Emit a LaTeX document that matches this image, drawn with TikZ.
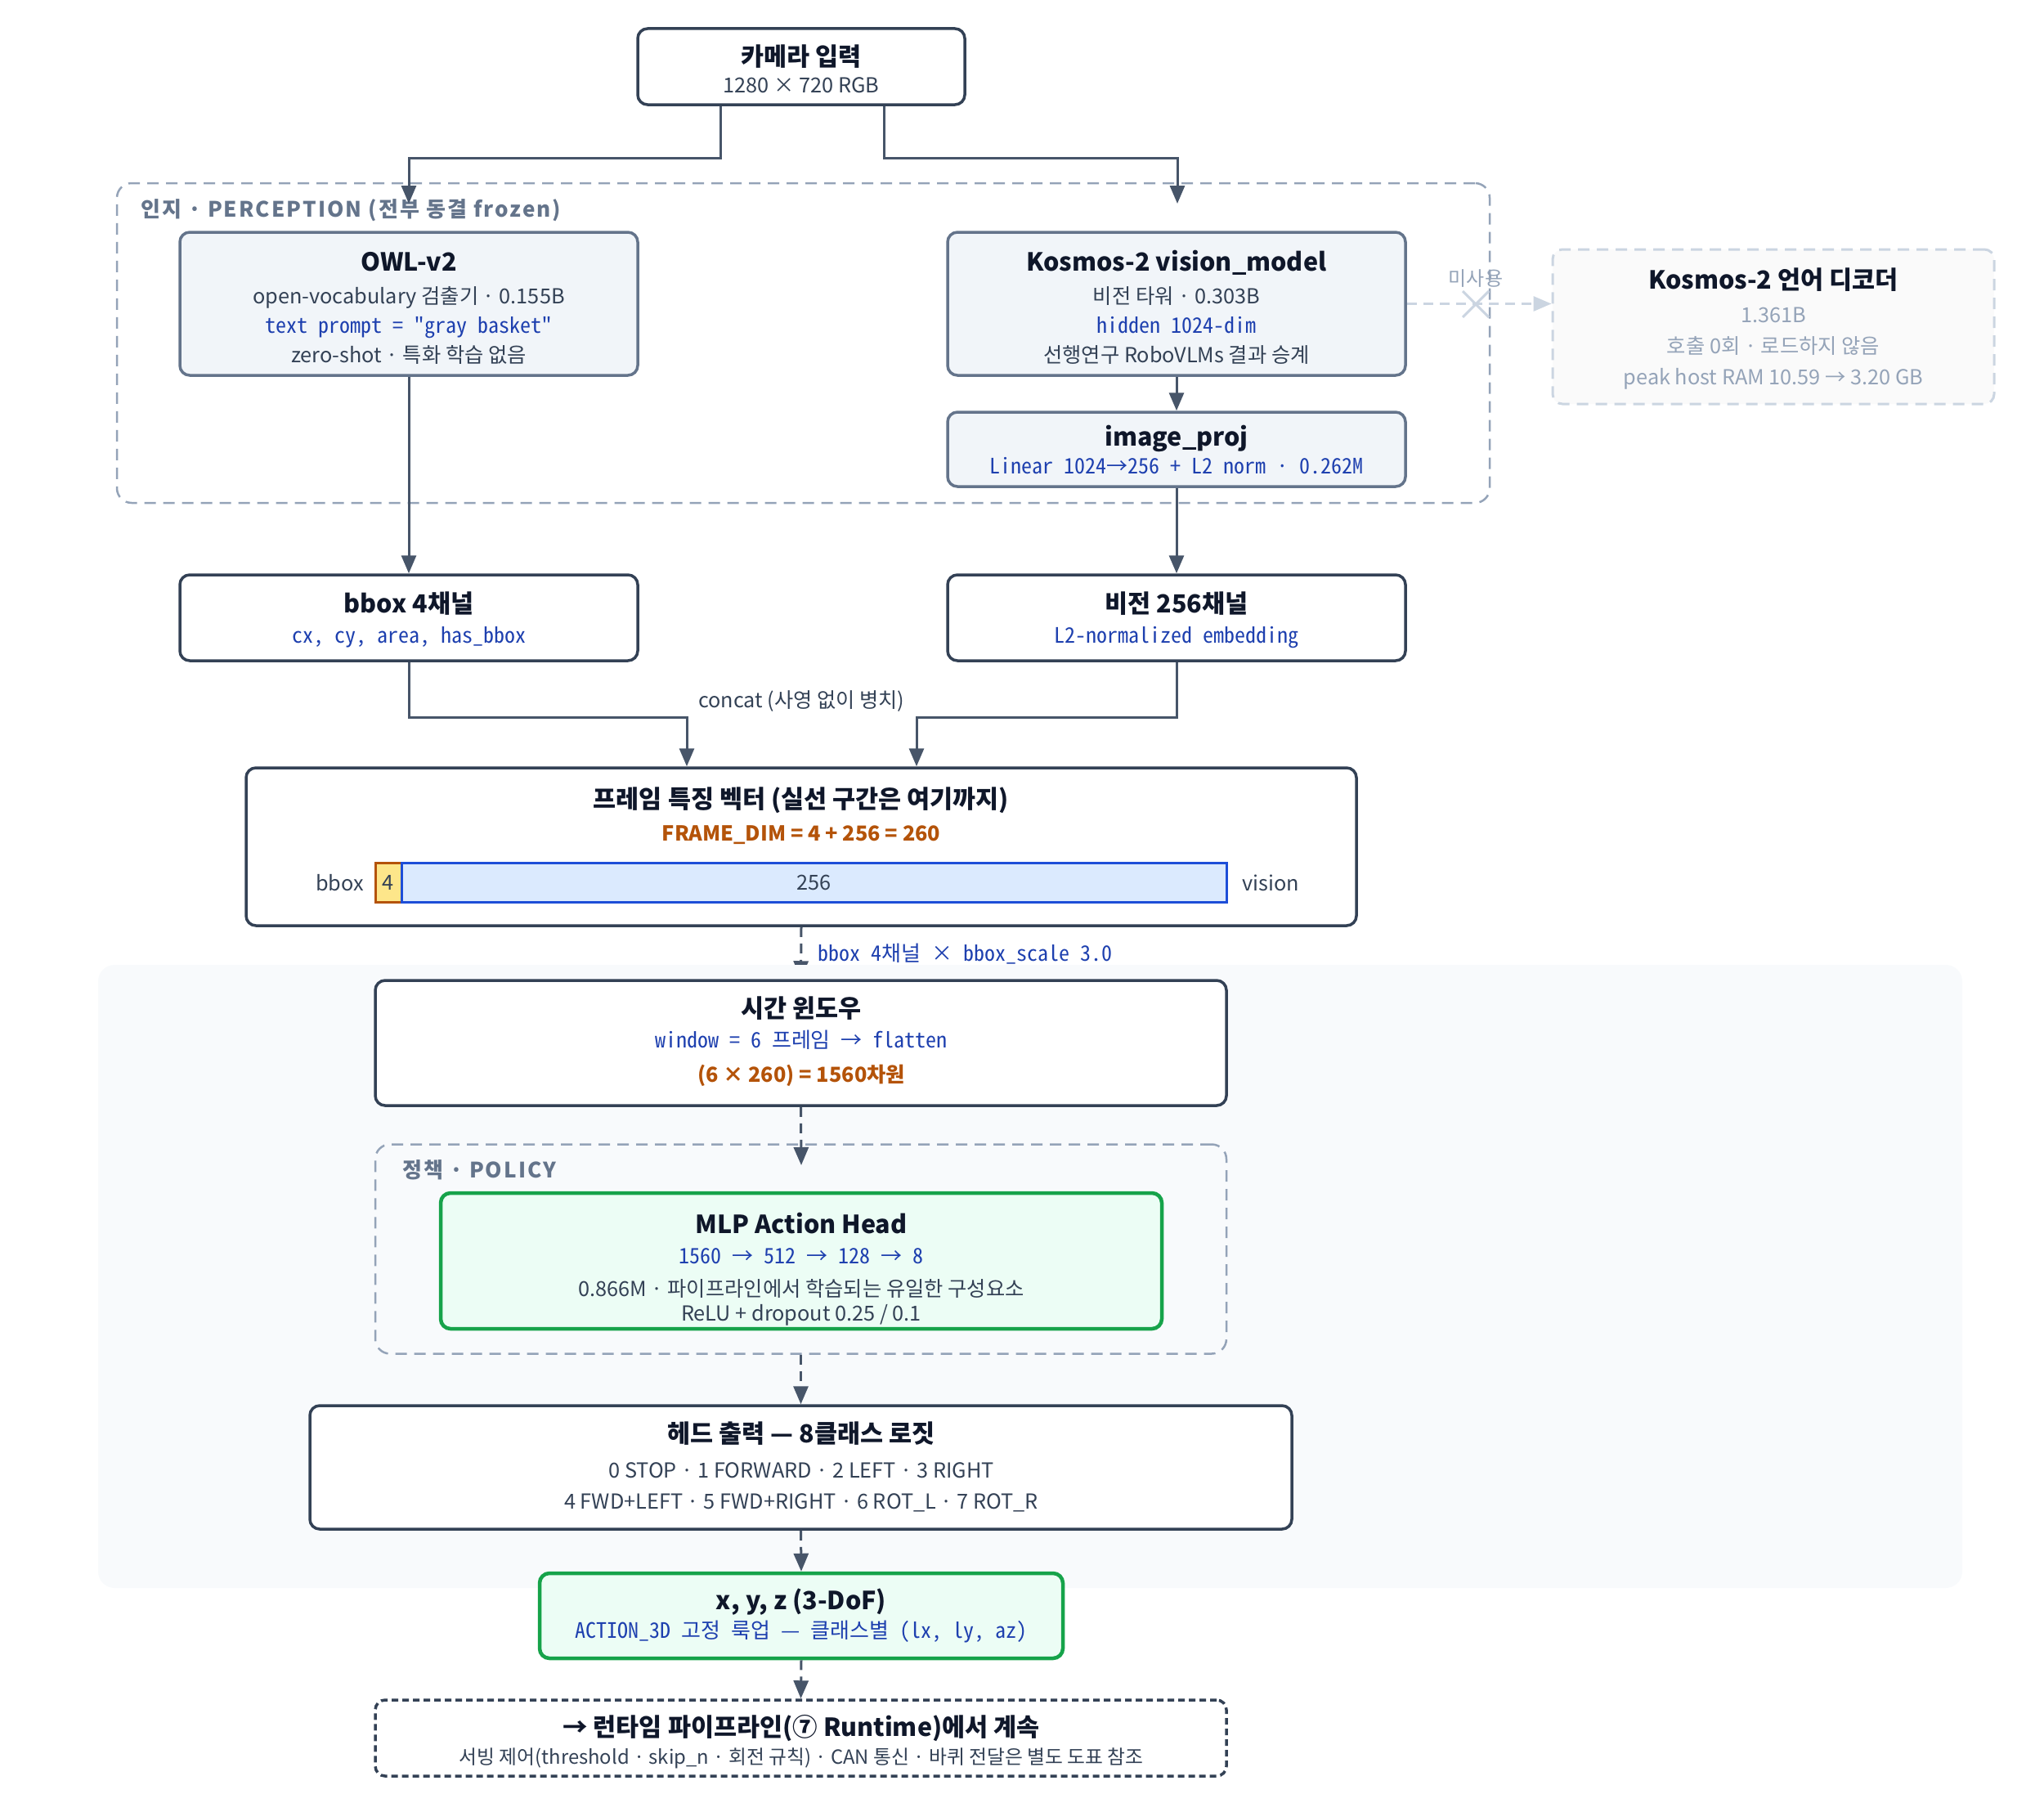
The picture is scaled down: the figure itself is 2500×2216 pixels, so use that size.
\documentclass[tikz,border=0pt]{standalone}
\usepackage{fontspec}
\setmainfont{Noto Sans CJK KR}
\setmonofont{Noto Sans Mono CJK KR}
\usetikzlibrary{arrows.meta}
\definecolor{ink}{HTML}{0F172A}
\definecolor{bodyc}{HTML}{334155}
\definecolor{edge}{HTML}{334155}
\definecolor{arrowc}{HTML}{475569}
\definecolor{softedge}{HTML}{64748B}
\definecolor{softfill}{HTML}{F1F5F9}
\definecolor{monoblue}{HTML}{1E40AF}
\definecolor{orng}{HTML}{B45309}
\definecolor{grn}{HTML}{16A34A}
\definecolor{mint}{HTML}{ECFDF5}
\definecolor{regionc}{HTML}{94A3B8}
\definecolor{regiontext}{HTML}{64748B}
\definecolor{ghost}{HTML}{CBD5E1}
\definecolor{ghostfill}{HTML}{FAFAFA}
\definecolor{ghosttext}{HTML}{94A3B8}
\definecolor{panelc}{HTML}{F8FAFC}
\definecolor{ylw}{HTML}{FDE68A}
\definecolor{lblue}{HTML}{DBEAFE}
\definecolor{cellblue}{HTML}{1D4ED8}
\newcommand\Tsz{\fontsize{30.5}{37}\selectfont\bfseries}
\newcommand\Bsz{\fontsize{25.3}{31}\selectfont}
\newcommand\Msz{\fontsize{26}{31}\selectfont\ttfamily}
\newcommand\Lsz{\fontsize{26}{32}\selectfont\bfseries\addfontfeatures{LetterSpace=8}}
\begin{document}
\begin{tikzpicture}[x=1pt,y=-1pt,
  box/.style={draw=edge, line width=3.5pt, rounded corners=12pt, fill=white, inner sep=0pt},
  softbox/.style={box, draw=softedge, fill=softfill},
  greenbox/.style={box, draw=grn, fill=mint, line width=4.5pt},
  ghostbox/.style={box, draw=ghost, fill=ghostfill, line width=3pt, dash pattern=on 14pt off 9pt},
  region/.style={draw=regionc, line width=2.5pt, rounded corners=18pt, dash pattern=on 14pt off 9pt, inner sep=0pt},
  ttl/.style={anchor=base, font=\Tsz, text=ink, inner sep=0pt},
  bd/.style={anchor=base, font=\Bsz, text=bodyc, inner sep=0pt},
  mn/.style={anchor=base, font=\Msz, text=monoblue, inner sep=0pt},
  org/.style={anchor=base, font=\Bsz\bfseries, text=orng, inner sep=0pt},
  gt/.style={anchor=base, font=\Bsz, text=ghosttext, inner sep=0pt},
  conn/.style={draw=arrowc, line width=3pt, -{Triangle[length=22pt,width=18pt]}},
  dconn/.style={conn, dash pattern=on 12pt off 8pt},
  ghostconn/.style={draw=ghost, line width=3pt, dash pattern=on 12pt off 8pt, -{Triangle[length=22pt,width=18pt]}},
]
\useasboundingbox (0,0) rectangle (2500,2216);

% perception region
\node[region, minimum width=1679pt, minimum height=391pt] (perc) at (982.5,419.5) {};
\node[anchor=base west, font=\Lsz, text=regiontext, inner sep=0pt] (perclbl) at (172,265) {인지 · PERCEPTION (전부 동결 frozen)};

% camera
\node[box, minimum width=400pt, minimum height=93pt] (cam) at (980,81.5) {};
\node[ttl] (camt) at (980,81) {카메라 입력};
\node[bd] (cams) at (980,113) {1280 × 720 RGB};

% OWL
\node[softbox, minimum width=560pt, minimum height=175pt] (owl) at (500,371.5) {};
\node[ttl] (owlt) at (500,331) {OWL-v2};
\node[bd] (owl1) at (500,371) {open-vocabulary 검출기 · 0.155B};
\node[mn] (owl2) at (500,407) {text prompt = "gray basket"};
\node[bd] (owl3) at (500,443) {zero-shot · 특화 학습 없음};

% Kosmos vision
\node[softbox, minimum width=560pt, minimum height=175pt] (kos) at (1439,371.5) {};
\node[ttl] (kost) at (1439,331) {Kosmos-2 vision\_model};
\node[bd] (kos1) at (1439,371) {비전 타워 · 0.303B};
\node[mn] (kos2) at (1439,407) {hidden 1024-dim};
\node[bd] (kos3) at (1439,443) {선행연구 RoboVLMs 결과 승계};

% image_proj
\node[softbox, minimum width=560pt, minimum height=91pt] (proj) at (1439,549.5) {};
\node[ttl] (projt) at (1439,545) {image\_proj};
\node[mn] (proj1) at (1439,579) {Linear 1024→256 + L2 norm · 0.262M};

% decoder (unused)
\node[ghostbox, minimum width=540pt, minimum height=189pt] (dec) at (2169,399.5) {};
\node[ttl] (dect) at (2169,353) {Kosmos-2 언어 디코더};
\node[gt] (dec1) at (2169,394) {1.361B};
\node[gt] (dec2) at (2169,432) {호출 0회 · 로드하지 않음};
\node[gt] (dec3) at (2169,470) {peak host RAM 10.59 → 3.20 GB};
\node[anchor=base, font=\fontsize{24}{30}\selectfont, text=ghosttext, inner sep=0pt] (unused) at (1805,349) {미사용};

% bbox / vision channels
\node[box, minimum width=560pt, minimum height=105pt] (bbox) at (500,755.5) {};
\node[ttl] (bboxt) at (500,749) {bbox 4채널};
\node[mn] (bbox1) at (500,786) {cx, cy, area, has\_bbox};
\node[box, minimum width=560pt, minimum height=105pt] (vis) at (1439,755.5) {};
\node[ttl] (vist) at (1439,749) {비전 256채널};
\node[mn] (vis1) at (1439,786) {L2-normalized embedding};

% frame feature
\node[box, minimum width=1358pt, minimum height=193pt] (frame) at (980,1035.5) {};
\node[ttl] (framet) at (980,988) {프레임 특징 벡터 (실선 구간은 여기까지)};
\node[org] (frame1) at (980,1028) {FRAME\_DIM = 4 + 256 = 260};
\node[draw=orng, fill=ylw, line width=3pt, minimum width=32pt, minimum height=48pt, inner sep=0pt, font=\Bsz, text=bodyc] (cell4) at (475,1079) {4};
\node[draw=cellblue, fill=lblue, line width=3pt, minimum width=1009pt, minimum height=48pt, inner sep=0pt, font=\Bsz, text=bodyc] (cell256) at (995.5,1079) {256};
\node[anchor=base east, font=\Bsz, text=bodyc, inner sep=0pt] (barl) at (445,1089) {bbox};
\node[anchor=base west, font=\Bsz, text=bodyc, inner sep=0pt] (barr) at (1519,1089) {vision};

% connectors (upper part)
\coordinate (owlin) at (500,249);
\coordinate (kosin) at (1440,249);
\draw[conn] ([xshift=-99pt]cam.south) -- ++(0,64) -| (owlin);
\draw[conn] ([xshift=101pt]cam.south) -- ++(0,64) -| (kosin);
\draw[conn] (owl.south) -- (bbox.north);
\draw[conn] (kos.south) -- (proj.north);
\draw[conn] (proj.south) -- (vis.north);
\draw[conn] (bbox.south) -- ++(0,68) -| ([xshift=-140pt]frame.north);
\draw[conn] (vis.south) -- ++(0,68) -| ([xshift=141pt]frame.north);
\node[anchor=base, font=\fontsize{25.2}{31}\selectfont, text=bodyc, inner sep=0pt] (concat) at (980,865) {concat (사영 없이 병치)};
\draw[ghostconn] (kos.east) -- (kos.east -| dec.west);
\draw[draw=ghost, line width=3pt] (1789,356) -- (1821,388) (1789,388) -- (1821,356);

% time window (arrow drawn under the panel)
\node[box, draw=none, fill=none, minimum width=1041pt, minimum height=153pt] (timeph) at (979.5,1275.5) {};
\draw[dconn] (frame.south) -- (timeph.north);

% lower panel
\node[fill=panelc, rounded corners=20pt, minimum width=2280pt, minimum height=762pt, inner sep=0pt] (panel) at (1260,1561) {};
\node[anchor=base west, font=\Msz, text=monoblue, inner sep=0pt] (scale) at (1000,1175) {bbox 4채널 × bbox\_scale 3.0};

\node[box, minimum width=1041pt, minimum height=153pt] (time) at (979.5,1275.5) {};
\node[ttl] (timet) at (980,1244) {시간 윈도우};
\node[mn] (time1) at (980,1281) {window = 6 프레임 → flatten};
\node[org] (time2) at (980,1323) {(6 × 260) = 1560차원};

% policy region
\node[region, minimum width=1041pt, minimum height=256pt] (pol) at (979.5,1527.5) {};
\node[anchor=base west, font=\Lsz, text=regiontext, inner sep=0pt] (pollbl) at (492,1440) {정책 · POLICY};
\node[greenbox, minimum width=882pt, minimum height=166pt] (mlp) at (980,1542) {};
\node[ttl] (mlpt) at (980,1508) {MLP Action Head};
\node[mn] (mlp1) at (980,1545) {1560 → 512 → 128 → 8};
\node[bd] (mlp2) at (980,1585) {0.866M · 파이프라인에서 학습되는 유일한 구성요소};
\node[bd] (mlp3) at (980,1615) {ReLU + dropout 0.25 / 0.1};

% head output
\node[box, minimum width=1201pt, minimum height=151pt] (head) at (979.5,1794.5) {};
\node[ttl] (headt) at (980,1764) {헤드 출력 — 8클래스 로짓};
\node[bd] (head1) at (980,1807) {0 STOP · 1 FORWARD · 2 LEFT · 3 RIGHT};
\node[bd] (head2) at (980,1845) {4 FWD+LEFT · 5 FWD+RIGHT · 6 ROT\_L · 7 ROT\_R};

% xyz
\node[greenbox, minimum width=640pt, minimum height=104pt] (xyz) at (980,1976) {};
\node[ttl] (xyzt) at (980,1968) {x, y, z (3-DoF)};
\node[mn] (xyz1) at (980,2003) {ACTION\_3D 고정 룩업 — 클래스별 (lx, ly, az)};

% runtime
\node[box, dash pattern=on 8pt off 5pt, minimum width=1041pt, minimum height=93pt] (run) at (979.5,2125.5) {};
\node[ttl] (runt) at (980,2123) {→ 런타임 파이프라인(⑦ Runtime)에서 계속};
\node[bd, font=\fontsize{23.8}{29}\selectfont] (run1) at (980,2157) {서빙 제어(threshold · skip\_n · 회전 규칙) · CAN 통신 · 바퀴 전달은 별도 도표 참조};

% lower connectors
\coordinate (polin) at (980,1425);
\draw[dconn] (time.south) -- (polin);
\draw[dconn] (pol.south) -- (head.north);
\draw[dconn] (head.south) -- (xyz.north);
\draw[dconn] (xyz.south) -- (run.north);
\end{tikzpicture}
\end{document}
